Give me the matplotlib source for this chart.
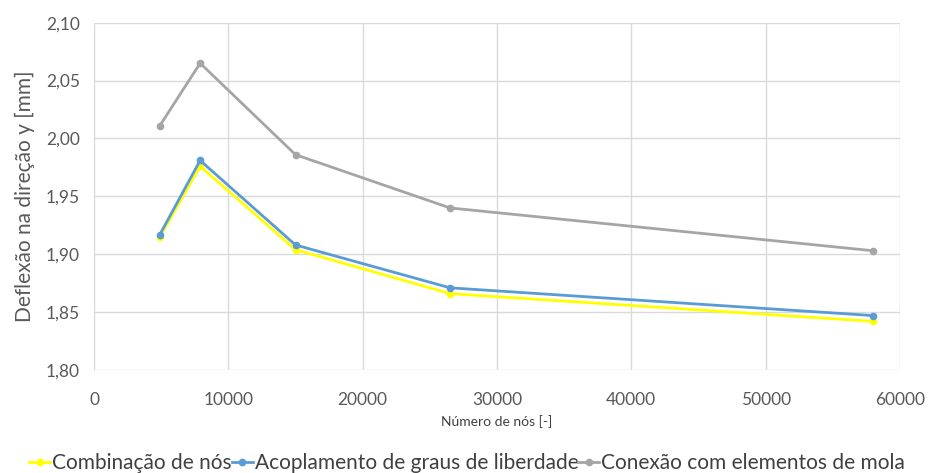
import numpy as np
import matplotlib.pyplot as plt

plt.rcParams['font.family'] = ['Lato', 'DejaVu Sans']

# dados
nos = [4900, 7900, 15000, 26500, 58000]
combinacao = [1.915, 1.976, 1.904, 1.866, 1.842]
acoplamento = [1.917, 1.981, 1.908, 1.871, 1.847]
conexao = [2.011, 2.065, 1.986, 1.940, 1.903]

labels = ['Combinação de nós', 'Acoplamento de graus de liberdade',
          'Conexão com elementos de mola']
cores = ['#FFFF00', '#5B9BD5', '#A5A5A5']

fig = plt.figure(figsize=(9.34, 4.73), dpi=100)
ax = fig.add_axes([94/934, 103/473, 806/934, 347.3/473])

for serie, lab, cor in zip([combinacao, acoplamento, conexao], labels, cores):
    ax.plot(nos, serie, color=cor, linewidth=2, marker='o', markersize=4.5,
            label=lab)

ax.set_xlim(0, 60000)
ax.set_ylim(1.80, 2.10)
ax.set_xticks(np.arange(0, 60001, 10000))
ax.set_yticks(np.arange(1.80, 2.101, 0.05))
ax.set_yticklabels([f'{v:.2f}'.replace('.', ',') for v in np.arange(1.80, 2.101, 0.05)])

ax.grid(True, color='#D9D9D9', linewidth=1)
ax.set_axisbelow(True)
for s in ax.spines.values():
    s.set_visible(False)
ax.tick_params(length=0, labelsize=12.5, colors='#595959')
ax.tick_params(axis='x', pad=16)
ax.tick_params(axis='y', pad=10)

ax.set_xlabel('Número de nós [-]', fontsize=10, color='#404040', labelpad=5)
ax.set_ylabel('Deflexão na direção y [mm]', fontsize=15, color='#595959', labelpad=8)

leg = ax.legend(loc='lower center', bbox_to_anchor=(0.463, -0.35), ncol=3,
                frameon=False, fontsize=15, handlelength=1.0,
                handletextpad=0.1, columnspacing=0.0, labelcolor='#404040')

fig.savefig('out.png', dpi=100, facecolor='white')
